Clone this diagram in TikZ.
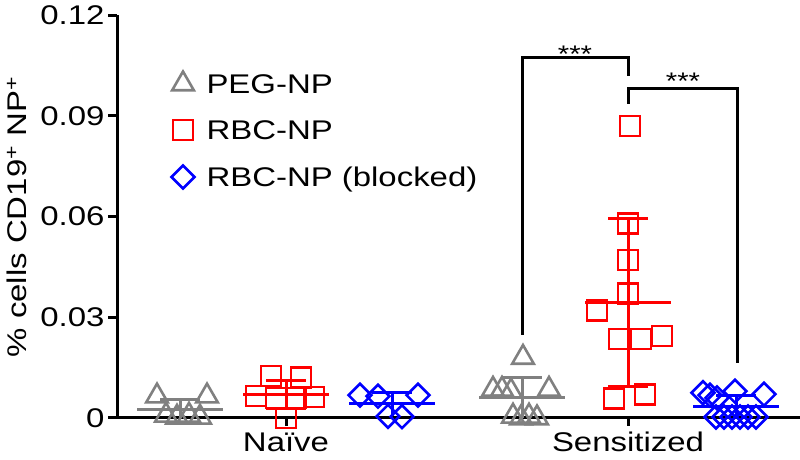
\documentclass[tikz,border=0pt]{standalone}
\usepackage{fontspec}
\setmainfont{Liberation Sans}[FakeStretch=1.22]
\usetikzlibrary{shapes.geometric}
\definecolor{pegcol}{RGB}{128,128,128}
\definecolor{rbccol}{RGB}{255,0,0}
\definecolor{blkcol}{RGB}{0,0,255}

\begin{document}
\begin{tikzpicture}[x=1pt, y=1pt, line width=3pt,
  every node/.style={font=\fontsize{27}{32}\selectfont, inner sep=0pt},
  tri/.style={regular polygon, regular polygon sides=3, draw=pegcol, minimum size=25pt, line width=2.6pt},
  sq/.style={rectangle, draw=rbccol, minimum size=20pt, line width=2.6pt},
  dia/.style={diamond, draw=blkcol, minimum size=24pt, line width=2.6pt},
  stars/.style={anchor=base, font=\fontsize{24}{28}\selectfont}]
\useasboundingbox (0,0) rectangle (800,460);

% legend
\node [tri] (lg1) at (183,376) {};
\node [sq] (lg2) at (183,330) {};
\node [dia] (lg3) at (183,283) {};
\node [anchor=base west] (lt1) at (205,366) {PEG-NP};
\node [anchor=base west] (lt2) at (205,320) {RBC-NP};
\node [anchor=base west] (lt3) at (205,273) {RBC-NP (blocked)};

% axis labels
\node [rotate=90] (ylab) at (17,243) {\% cells CD19\textsuperscript{+} NP\textsuperscript{+}};
\node [anchor=base] (naive) at (286,8) {Naïve};
\node [anchor=base] (sens) at (628,8) {Sensitized};

\begin{scope}[yshift=42pt, y=3358pt]
% axes
\draw (117,0.12) -- (117,0) -- (800,0);
\draw (108,0) -- (117,0);
\draw (108,0.03) -- (117,0.03);
\draw (108,0.06) -- (117,0.06);
\draw (108,0.09) -- (117,0.09);
\draw (108,0.12) -- (117,0.12);
\draw (286,0) -- (286,-0.0025);
\draw (628,0) -- (628,-0.0025);
\node [anchor=east] (y0) at (106,0) {0};
\node [anchor=east] (y1) at (106,0.03) {0.03};
\node [anchor=east] (y2) at (106,0.06) {0.06};
\node [anchor=east] (y3) at (106,0.09) {0.09};
\node [anchor=east] (y4) at (106,0.12) {0.12};

% naive, PEG-NP
\node [tri] (np1) at (157,0.0065) {};
\node [tri] (np2) at (207,0.0065) {};
\node [tri] (np3) at (166,0.0008) {};
\node [tri] (np4) at (177,0.0002) {};
\node [tri] (np5) at (189,0.0008) {};
\node [tri] (np6) at (200,0.0002) {};
\draw [pegcol] (137,0.0025) -- (223,0.0025);
\draw [pegcol] (180,0) -- (180,0.0056);
\draw [pegcol] (160,0.0056) -- (200,0.0056);

% naive, RBC-NP
\node [sq] (nr1) at (271,0.0125) {};
\node [sq] (nr2) at (301,0.012) {};
\node [sq] (nr3) at (256,0.0065) {};
\node [sq] (nr4) at (276,0.006) {};
\node [sq] (nr5) at (296,0.006) {};
\node [sq] (nr6) at (314,0.0062) {};
\node [sq] (nr7) at (286,0) {};
\draw [rbccol] (243,0.007) -- (329,0.007);
\draw [rbccol] (286,0.0028) -- (286,0.0112);
\draw [rbccol] (266,0.0112) -- (306,0.0112);
\draw [rbccol] (266,0.0028) -- (306,0.0028);

% naive, blocked
\node [dia] (nb1) at (360,0.0068) {};
\node [dia] (nb2) at (378,0.0065) {};
\node [dia] (nb3) at (418,0.0068) {};
\node [dia] (nb4) at (388,0.0005) {};
\node [dia] (nb5) at (402,0.0004) {};
\draw [blkcol] (349,0.0042) -- (435,0.0042);
\draw [blkcol] (392,0.0007) -- (392,0.0077);
\draw [blkcol] (372,0.0077) -- (412,0.0077);

% sensitized, PEG-NP
\node [tri] (sp1) at (523,0.018) {};
\node [tri] (sp2) at (493,0.0085) {};
\node [tri] (sp3) at (502,0.0085) {};
\node [tri] (sp4) at (511,0.008) {};
\node [tri] (sp5) at (549,0.0085) {};
\node [tri] (sp6) at (513,0.0005) {};
\node [tri] (sp7) at (521,0) {};
\node [tri] (sp8) at (529,0.0005) {};
\node [tri] (sp9) at (537,0) {};
\draw [pegcol] (479,0.006) -- (565,0.006);
\draw [pegcol] (522,0) -- (522,0.012);
\draw [pegcol] (502,0.012) -- (542,0.012);

% sensitized, RBC-NP
\node [sq] (sr1) at (630,0.087) {};
\node [sq] (sr2) at (628,0.058) {};
\node [sq] (sr3) at (628,0.047) {};
\node [sq] (sr4) at (628,0.037) {};
\node [sq] (sr5) at (597,0.032) {};
\node [sq] (sr6) at (619,0.0235) {};
\node [sq] (sr7) at (641,0.0235) {};
\node [sq] (sr8) at (662,0.0244) {};
\node [sq] (sr9) at (614,0.0058) {};
\node [sq] (sr10) at (645,0.007) {};
\draw [rbccol] (585,0.0345) -- (671,0.0345);
\draw [rbccol] (628,0.0095) -- (628,0.0595);
\draw [rbccol] (608,0.0595) -- (648,0.0595);
\draw [rbccol] (608,0.0095) -- (648,0.0095);

% sensitized, blocked
\node [dia] (sb1) at (703,0.0075) {};
\node [dia] (sb2) at (710,0.0068) {};
\node [dia] (sb3) at (717,0.006) {};
\node [dia] (sb4) at (735,0.008) {};
\node [dia] (sb5) at (764,0.0071) {};
\node [dia] (sb6) at (716,0.0003) {};
\node [dia] (sb7) at (724,0.0003) {};
\node [dia] (sb8) at (732,0.0003) {};
\node [dia] (sb9) at (740,0.0003) {};
\node [dia] (sb10) at (748,0.0003) {};
\node [dia] (sb11) at (756,0.0003) {};
\draw [blkcol] (693,0.0033) -- (779,0.0033);
\draw [blkcol] (736,0) -- (736,0.0068);
\draw [blkcol] (716,0.0068) -- (756,0.0068);

% significance
\coordinate (k1) at (522,0.0248);
\coordinate (k2) at (628,0.1073);
\coordinate (k3) at (628,0.0982);
\coordinate (k4) at (737,0.0982);
\coordinate (k5) at (737,0.0164);
\draw (k1) |- (k2) -- (628,0.1018);
\draw (628,0.0936) -- (k3) -- (k4) -- (k5);
\node [stars] (st1) at (575,0.1058) {***};
\node [stars] (st2) at (683,0.0977) {***};
\end{scope}
\end{tikzpicture}
\end{document}
